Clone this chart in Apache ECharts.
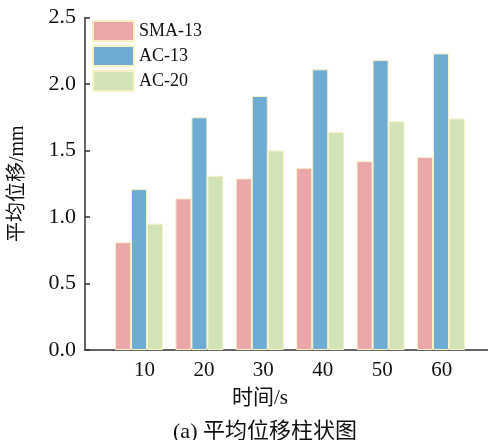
<!DOCTYPE html>
<html>
<head>
<meta charset="utf-8">
<script src="https://cdn.jsdelivr.net/npm/echarts@6/dist/echarts.min.js"></script>
<style>
    html, body { margin: 0; padding: 0; background: #fff; }
    #chart { width: 488px; height: 440px; }
</style>
</head>
<body>
<div id="chart"></div>
<script>
const times = [10, 20, 30, 40, 50, 60];
const timeLabels = ['10', '20', '30', '40', '50', '60'];
const seriesNames = ['SMA-13', 'AC-13', 'AC-20'];
const sma13 = [0.81, 1.14, 1.29, 1.37, 1.42, 1.45];
const ac13 = [1.21, 1.75, 1.91, 2.11, 2.18, 2.23];
const ac20 = [0.95, 1.31, 1.50, 1.64, 1.72, 1.74];

const colors = ['#eba6a9', '#6facd4', '#d3e3b8'];
const serif = '"Liberation Serif", "Noto Sans CJK SC", serif';
const axisColor = '#333';

const chart = echarts.init(document.getElementById('chart'));

// grid 0 holds the visible axes, grid 1 the bars (one category per time step)
const plotTop = 17.5, plotBottom = 90;

function makeSeries(name, values, color) {
    return {
        name: name,
        type: 'bar',
        xAxisIndex: 1,
        yAxisIndex: 1,
        barWidth: 16,
        barGap: '0%',
        itemStyle: { color: color, borderColor: '#f8f2c6', borderWidth: 1 },
        data: values
    };
}

const option = {
    animation: false,
    backgroundColor: '#fff',
    textStyle: { fontFamily: serif },
    grid: [
        { left: 78, right: 0, top: plotTop, bottom: plotBottom },
        { left: 108.8, right: 16.8, top: plotTop, bottom: plotBottom }
    ],
    legend: {
        orient: 'vertical',
        left: 92,
        top: 20,
        padding: 0,
        icon: 'rect',
        itemWidth: 41,
        itemHeight: 20,
        itemGap: 3,
        textStyle: { fontFamily: serif, fontSize: 18, color: '#111' },
        data: seriesNames
    },
    xAxis: [
        {
            type: 'value',
            gridIndex: 0,
            min: 0,
            max: 67.8,
            interval: 10,
            splitLine: { show: false },
            axisLine: { show: true, lineStyle: { color: axisColor, width: 1.5 } },
            axisTick: { show: true, inside: true, length: 5, customValues: times, lineStyle: { color: axisColor, width: 1.5 } },
            axisLabel: { customValues: times, fontFamily: serif, fontSize: 21, color: '#111', margin: 10 }
        },
        {
            type: 'category',
            gridIndex: 1,
            data: timeLabels,
            show: false
        }
    ],
    yAxis: [
        {
            type: 'value',
            gridIndex: 0,
            min: 0,
            max: 2.5,
            interval: 0.5,
            name: '平均位移/mm',
            nameLocation: 'middle',
            nameGap: 57,
            nameTextStyle: { fontFamily: serif, fontSize: 20, color: '#111' },
            splitLine: { show: false },
            axisLine: { show: true, lineStyle: { color: axisColor, width: 1.5 } },
            axisTick: { show: true, inside: true, length: 5, lineStyle: { color: axisColor, width: 1.5 } },
            axisLabel: {
                fontFamily: serif, fontSize: 22, color: '#111', margin: 9,
                formatter: v => v.toFixed(1)
            }
        },
        {
            type: 'value',
            gridIndex: 1,
            min: 0,
            max: 2.5,
            show: false,
            splitLine: { show: false }
        }
    ],
    graphic: [
        {
            type: 'text', x: 260, y: 398,
            style: { text: '时间/s', font: '21px ' + serif, fill: '#111', align: 'center', verticalAlign: 'middle' }
        },
        {
            type: 'text', x: 265, y: 432,
            style: { text: '(a) 平均位移柱状图', font: '22px ' + serif, fill: '#111', align: 'center', verticalAlign: 'middle' }
        }
    ],
    series: [
        makeSeries(seriesNames[0], sma13, colors[0]),
        makeSeries(seriesNames[1], ac13, colors[1]),
        makeSeries(seriesNames[2], ac20, colors[2])
    ]
};

chart.setOption(option);
</script>
</body>
</html>
